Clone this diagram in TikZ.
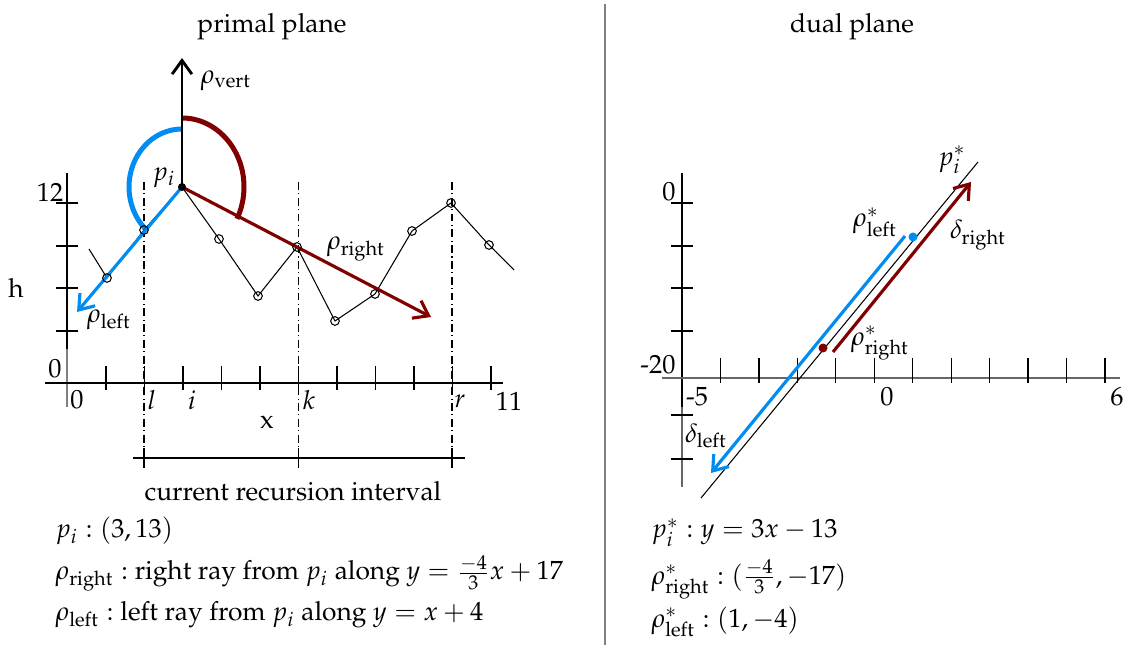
\documentclass[tikz,border=0pt]{standalone}
\usepackage[T1]{fontenc}
\usepackage{mathpazo}
\usetikzlibrary{arrows.meta,calc}
\definecolor{lblue}{RGB}{0,140,240}
\definecolor{dred}{RGB}{128,0,0}

\begin{document}
\begin{tikzpicture}[x=0.38pt,y=-0.38pt,>={Straight Barb[length=5.2pt,width=7.5pt]},
  thinline/.style={line width=0.4pt},
  axtick/.style={line width=0.5pt},
  dashdot/.style={line width=0.4pt,dash pattern=on 3pt off 1.3pt on 0.4pt off 1.3pt},
  bluray/.style={lblue,line width=1.2pt,->},
  redray/.style={dred,line width=1.2pt,->},
  bigarc/.style={line width=1.9pt},
  txt/.style={anchor=base west,inner sep=0pt}]
  \useasboundingbox (0,0) rectangle (1138,648);

  \node (ttlP) at (272,27) {primal plane};
  \draw[line width=0.8pt] (67,173) -- (67,349);
  \draw[gray,line width=0.5pt] (67,349) -- (67,407);
  \draw[line width=0.5pt] (45,383) -- (503,383);
  \foreach \y in {203,246,288,331} \draw[axtick] (56,\y) -- (78,\y);
  \foreach \i in {1,...,11} \draw[axtick] ({67.5+38.5*\i},366) -- ({67.5+38.5*\i},390);
  \foreach \x in {144,298.5,452}{
    \draw[dashdot] (\x,182) -- (\x,448);
    \draw[axtick] (\x,448) -- (\x,468);
  }
  \draw[axtick] (133,458) -- (465,458);

  \coordinate (pi) at (182,187);
  \draw[dred,bigarc] (182,118) arc[start angle=-90,end angle=27.5,x radius=62,y radius=69];
  \draw[lblue,bigarc] (182,129) arc[start angle=-90,end angle=-226,x radius=53,y radius=58];
  \foreach \n/\x/\y in {0/89/249,1/107/278,2/144/230,3/182/187,4/219/239,5/258/296,6/297/247,
    7/335/321,8/375/294,9/412/231,10/451/203,11/489/245,12/514/270}
    \coordinate (q\n) at (\x,\y);
  \draw[thinline] (q0) \foreach \n in {1,...,12}{ -- (q\n)};
  \coordinate (vtip) at (182,58);
  \coordinate (ltip) at (77,312);
  \coordinate (rtip) at (431,317);
  \draw[line width=1.1pt,->] (pi) -- (vtip);
  \draw[bluray] (pi) -- (ltip);
  \draw[redray] (pi) -- (rtip);
  \foreach \n in {1,2,4,5,6,7,8,9,10,11} \draw[thinline] (q\n) circle (4.3);
  \fill (pi) circle (4);

  \node (lvert) at (226,81) {$\rho_{\mathrm{vert}}$};
  \node (lpi) at (164,178) {$p_i$};
  \node (lright) at (356,249) {$\rho_{\mathrm{right}}$};
  \node (lleft) at (109,320) {$\rho_{\mathrm{left}}$};
  \node (ly12) at (50,192) {12};
  \node (ly0) at (55,369) {0};
  \node (lh) at (16,288) {h};
  \node (lx0) at (77,400) {0};
  \node (lxl) at (152,400) {$l$};
  \node (lxi) at (192,400) {$i$};
  \node (lxk) at (309,400) {$k$};
  \node (lxr) at (460,401) {$r$};
  \node (lx11) at (509,401) {11};
  \node (lx) at (267,422) {x};
  \node (lint) at (293,491) {current recursion interval};

  \node[txt] (tpi) at (55,538) {$p_i:(3,13)$};
  \node[txt] (trr) at (55,580) {$\rho_{\mathrm{right}}:$ right ray from $p_i$ along $y=\frac{-4}{3}x+17$};
  \node[txt] (trl) at (55,621) {$\rho_{\mathrm{left}}:$ left ray from $p_i$ along $y=x+4$};

  \draw[gray,line width=0.6pt] (605,4) -- (605,645);

  \node (ttlD) at (852,27) {dual plane};
  \draw[line width=0.8pt] (682,173) -- (682,407);
  \draw[gray!80!black,line width=0.5pt] (682,407) -- (682,487);
  \draw[gray!80!black,line width=0.5pt] (662,378) -- (1120,378);
  \foreach \y in {203,246,288,331,415,459} \draw[axtick] (671,\y) -- (693,\y);
  \foreach \i in {1,...,11} \draw[axtick] ({682+38.45*\i},358) -- ({682+38.45*\i},383);

  \coordinate (da) at (701,498);
  \coordinate (db) at (978,162);
  \draw[thinline] (da) -- (db);
  \coordinate (bs) at (905,236);
  \coordinate (bt) at (711,473);
  \draw[bluray] (bs) -- (bt);
  \fill[lblue] (913,237) circle (4.5);
  \coordinate (rs) at (833,352);
  \coordinate (rt) at (971,182);
  \draw[redray] (rs) -- (rt);
  \fill[dred] (823,348) circle (4.5);

  \node (lpis) at (952,160) {$p_i^*$};
  \node (ldr) at (978,235) {$\delta_{\mathrm{right}}$};
  \node (lrls) at (875,222) {$\rho^*_{\mathrm{left}}$};
  \node (lrrs) at (880,343) {$\rho^*_{\mathrm{right}}$};
  \node (ldl) at (706,436) {$\delta_{\mathrm{left}}$};
  \node (dy0) at (669,192) {0};
  \node (dy20) at (658,365) {-20};
  \node (dx5) at (697,397) {-5};
  \node (dx0) at (887,397) {0};
  \node (dx6) at (1117,397) {6};

  \node[txt] (tpis) at (651,538) {$p_i^*:y=3x-13$};
  \node[txt] (trrs) at (651,584) {$\rho^*_{\mathrm{right}}:(\frac{-4}{3},-17)$};
  \node[txt] (trls) at (651,627) {$\rho^*_{\mathrm{left}}:(1,-4)$};
\end{tikzpicture}
\end{document}
